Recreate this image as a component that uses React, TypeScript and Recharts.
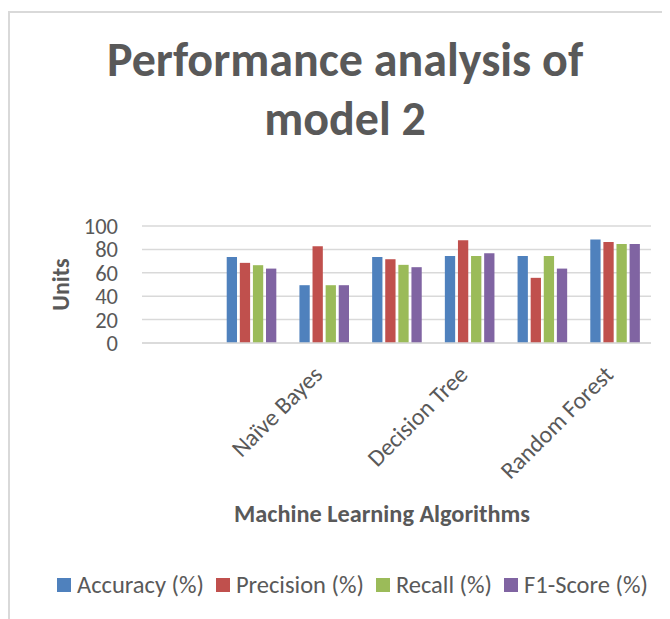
import React from 'react';
import { BarChart, Bar, XAxis, YAxis, CartesianGrid, Legend } from 'recharts';

const categories = ['', '', 'Naïve Bayes', '', 'Decision Tree', '', 'Random Forest'];
const accuracy = [null, 73.6, 49.4, 73.6, 74.4, 74.4, 88.4];
const precision = [null, 68.5, 82.7, 71.6, 87.8, 55.7, 86.4];
const recall = [null, 66.5, 49.4, 66.8, 74.4, 74.4, 84.7];
const f1Score = [null, 63.6, 49.4, 64.8, 76.7, 63.6, 84.7];
const yTicks = [0, 20, 40, 60, 80, 100];
const seriesNames = ['Accuracy (%)', 'Precision (%)', 'Recall (%)', 'F1-Score (%)'];
const seriesColors = ['#4F81BD', '#C0504D', '#9BBB59', '#8064A2'];
const titleLines = ['Performance analysis of', 'model 2'];
const xTitle = 'Machine Learning Algorithms';
const yTitle = 'Units';

const data = categories.map((c, i) => ({
  category: c,
  accuracy: accuracy[i],
  precision: precision[i],
  recall: recall[i],
  f1: f1Score[i],
}));
const keys = ['accuracy', 'precision', 'recall', 'f1'];

const FONT = 'Carlito, Calibri, Lato, sans-serif';
const TEXT = '#595959';
const GRID = '#D9D9D9';

const XTick = (props: any) => {
  const { x, y, payload } = props;
  const v = payload && payload.value;
  const label = typeof v === 'string' ? v : categories[v as number];
  if (!label) return null;
  const ty = y + 33;
  return (
    <text x={x} y={ty} transform={`rotate(-45 ${x} ${ty})`} textAnchor="end" fill={TEXT} fontSize={24} fontFamily={FONT}>
      {label}
    </text>
  );
};

const XLabel = (props: any) => {
  const vb = props.viewBox || {};
  return (
    <text x={382 - 8} y={vb.y + 179} textAnchor="middle" fill={TEXT} fontSize={24.3} fontWeight="bold" fontFamily={FONT}>
      {xTitle}
    </text>
  );
};

const YLabel = (props: any) => {
  const vb = props.viewBox || {};
  const cx = 52;
  const cy = vb.y + vb.height / 2;
  return (
    <text x={cx} y={cy} transform={`rotate(-90 ${cx} ${cy})`} textAnchor="middle" dominantBaseline="central" fill={TEXT} fontSize={24} fontWeight="bold" fontFamily={FONT}>
      {yTitle}
    </text>
  );
};

const LegendContent = (props: any) => {
  const payload = [...(props.payload || [])].sort(
    (a: any, b: any) => seriesNames.indexOf(a.value) - seriesNames.indexOf(b.value)
  );
  return (
    <div style={{ display: 'flex', alignItems: 'center', fontFamily: FONT, fontSize: 24.5, color: TEXT, whiteSpace: 'nowrap', lineHeight: '26px' }}>
      {payload.map((p: any, i: number) => (
        <div key={i} style={{ display: 'flex', alignItems: 'center', marginRight: 12 }}>
          <span style={{ width: 14, height: 14, background: p.color, display: 'inline-block', marginRight: 6 }} />
          <span>{p.value}</span>
        </div>
      ))}
    </div>
  );
};

export default function App() {
  return (
    <div style={{ position: 'relative', width: 662, height: 611 }}>
      <style>{'html,body{overflow:hidden}'}</style>
      <div style={{ position: 'absolute', left: 0, top: 3, width: 662, height: 608, borderLeft: `2px solid ${GRID}`, borderTop: `2px solid ${GRID}`, boxSizing: 'border-box' }} />
      <div style={{ position: 'absolute', left: 37, top: 22, width: 600, textAlign: 'center', fontFamily: FONT, fontWeight: 'bold', fontSize: 48, lineHeight: '59px', color: TEXT }}>
        {titleLines.map((t, i) => (
          <div key={i}>{t}</div>
        ))}
      </div>
      <div style={{ position: 'absolute', left: 0, top: 0 }}>
        <BarChart width={662} height={611} data={data} margin={{ top: 218, right: 19, bottom: 76, left: 0 }} barGap={2.8} barSize={10.3}>
          <CartesianGrid vertical={false} stroke={GRID} strokeWidth={1.5} />
          <XAxis dataKey="category" interval={0} tickSize={0} tickMargin={0} height={200} axisLine={{ stroke: GRID, strokeWidth: 1.5 }} tickLine={false} tick={<XTick />} label={<XLabel />} />
          <YAxis domain={[0, 100]} ticks={yTicks} interval={0} width={134} axisLine={false} tickLine={false} tickSize={0} tickMargin={24} tick={{ fill: TEXT, fontSize: 22.5, fontFamily: FONT }} label={<YLabel />} />
          <Legend verticalAlign="middle" align="center" layout="horizontal" wrapperStyle={{ left: 49, top: 564, width: 'auto', height: 26 }} content={<LegendContent />} />
          {keys.map((k, i) => (
            <Bar key={k} dataKey={k} name={seriesNames[i]} fill={seriesColors[i]} isAnimationActive={false} />
          ))}
        </BarChart>
      </div>
    </div>
  );
}
